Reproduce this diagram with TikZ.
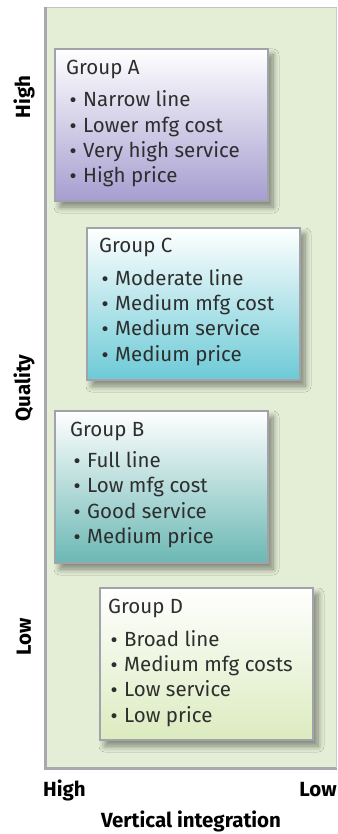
\documentclass[tikz,border=0pt]{standalone}
\usepackage{fontspec}
\setmainfont{Fira Sans}
\newfontfamily\bulfont{DejaVu Sans}
\usetikzlibrary{shadows.blur}
\definecolor{panelgreen}{HTML}{E4EED6}
\definecolor{axisgray}{HTML}{A8A8B0}
\definecolor{boxgray}{HTML}{A2A2AA}
\definecolor{txt}{HTML}{2E2E2E}
\definecolor{colA}{HTML}{A69ED0}
\definecolor{colC}{HTML}{6CCAD6}
\definecolor{colB}{HTML}{6BB8B4}
\definecolor{colD}{HTML}{DCEBBF}
\tikzset{
  grpbox/.style={draw=boxgray, line width=2pt, anchor=north west, inner sep=0pt,
    minimum width=213pt, minimum height=152pt,
    blur shadow={shadow xshift=5pt, shadow yshift=-6pt, shadow blur steps=10, shadow opacity=45, shadow blur radius=6pt}},
  grptitle/.style={anchor=base west, inner sep=0pt, text=txt, font=\fontsize{20.5}{22}\selectfont},
  grpitem/.style={anchor=base west, inner sep=0pt, text=txt, font=\fontsize{20.5}{22}\selectfont},
  axlabel/.style={inner sep=0pt, text=black, font=\fontsize{20.5}{22}\selectfont\bfseries},
}
\newcommand{\bul}[1]{\makebox[15pt][l]{{\bulfont\fontsize{17}{20}\selectfont •}}#1}
\begin{document}
\begin{tikzpicture}[x=1pt,y=-1pt]
\useasboundingbox (0,0) rectangle (337,834);
% panel
\fill[panelgreen] (45,8) rectangle (337,768);
\draw[axisgray!70, line width=1pt] (45,8) -- (337,8);
\draw[axisgray, line width=3pt] (45,7) -- (45,768) -- (337,768);
\draw[axisgray!60, line width=1pt] (336,8) -- (336,768);

% Group A
\node[grpbox, top color=white, middle color=colA!45, bottom color=colA] (A) at (54,48) {};
\node[grptitle] (a0) at (66,75) {Group A};
\node[grpitem] (a1) at (68,107) {\bul{Narrow line}};
\node[grpitem] (a2) at (68,132.3) {\bul{Lower mfg cost}};
\node[grpitem] (a3) at (68,157.6) {\bul{Very high service}};
\node[grpitem] (a4) at (68,183) {\bul{High price}};

% Group C
\node[grpbox, top color=white, middle color=colC!45, bottom color=colC] (C) at (86,227) {};
\node[grptitle] (c0) at (99,252) {Group C};
\node[grpitem] (c1) at (100,285) {\bul{Moderate line}};
\node[grpitem] (c2) at (100,310.3) {\bul{Medium mfg cost}};
\node[grpitem] (c3) at (100,335.6) {\bul{Medium service}};
\node[grpitem] (c4) at (100,361) {\bul{Medium price}};

% Group B
\node[grpbox, top color=white, middle color=colB!45, bottom color=colB] (B) at (54,410) {};
\node[grptitle] (b0) at (70,436) {Group B};
\node[grpitem] (b1) at (72,467) {\bul{Full line}};
\node[grpitem] (b2) at (72,492.5) {\bul{Low mfg cost}};
\node[grpitem] (b3) at (72,518) {\bul{Good service}};
\node[grpitem] (b4) at (72,543.5) {\bul{Medium price}};

% Group D
\node[grpbox, top color=white, middle color=colD!55, bottom color=colD] (D) at (99,587) {};
\node[grptitle] (d0) at (108,613) {Group D};
\node[grpitem] (d1) at (109,646) {\bul{Broad line}};
\node[grpitem] (d2) at (109,671.3) {\bul{Medium mfg costs}};
\node[grpitem] (d3) at (109,696.6) {\bul{Low service}};
\node[grpitem] (d4) at (109,722) {\bul{Low price}};

% axis labels
\node[axlabel, rotate=90] (yhigh) at (24,97) {High};
\node[axlabel, rotate=90] (yq) at (24,388) {Quality};
\node[axlabel, rotate=90] (ylow) at (24,637) {Low};
\node[axlabel, anchor=base west] (xhigh) at (43,796) {High};
\node[axlabel, anchor=base east] (xlow) at (337,796) {Low};
\node[axlabel, anchor=base] (xtitle) at (191,827) {Vertical integration};
\end{tikzpicture}
\end{document}
